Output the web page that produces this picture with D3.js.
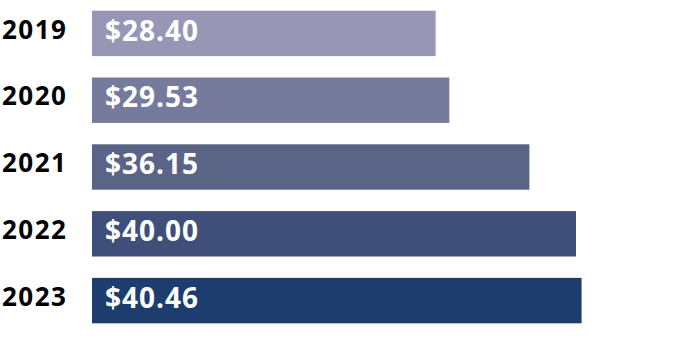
<!DOCTYPE html>
<html>
<head>
<meta charset="utf-8">
<script src="https://cdn.jsdelivr.net/npm/d3@7"></script>
<style>
  body { margin: 0; background: #fff; }
  .year { font-family: "Open Sans", sans-serif; font-weight: bold; fill: #000; letter-spacing: 1.5px; }
  .val { font-family: "Open Sans", sans-serif; font-weight: bold; fill: #fff; letter-spacing: 1px; }
</style>
</head>
<body>
<svg class="costchart"></svg>
<script>
var years = ["2019", "2020", "2021", "2022", "2023"];
var costs = [28.40, 29.53, 36.15, 40.00, 40.46];
var colors = ["#9797b5", "#767b9d", "#5a6487", "#3f4f79", "#1c3d6d"];

function drawCostChart() {
    var width = 698,
        height = 361;

    var x = d3.scaleLinear()
        .domain([0, 50])
        .range([92, 697]);

    var y = d3.scaleBand()
        .domain(years)
        .range([0, 334])
        .paddingInner(0.32)
        .paddingOuter(0.16);

    var chart = d3.select(".costchart")
        .attr("width", width)
        .attr("height", height);

    var data = years.map(function(d, i) { return {year: d, cost: costs[i], color: colors[i]}; });

    chart.selectAll(".bar")
            .data(data)
        .enter().append("rect")
            .attr("class", "bar")
            .attr("x", x(0))
            .attr("y", function(d) { return y(d.year); })
            .attr("width", function(d) { return x(d.cost) - x(0); })
            .attr("height", y.bandwidth())
            .attr("fill", function(d) { return d.color; });

    // year labels
    chart.selectAll(".year")
            .data(data)
        .enter().append("text")
            .attr("class", "year")
            .attr("x", 2)
            .attr("y", function(d) { return y(d.year) + y.bandwidth() / 2; })
            .attr("dy", "0.2em")
            .style("font-size", "26px")
            .text(function(d) { return d.year; });

    // value labels inside bars
    chart.selectAll(".val")
            .data(data)
        .enter().append("text")
            .attr("class", "val")
            .attr("x", x(0) + 13)
            .attr("y", function(d) { return y(d.year) + y.bandwidth() / 2; })
            .attr("dy", "0.26em")
            .style("font-size", "28px")
            .text(function(d) { return "$" + d.cost.toFixed(2); });
}

drawCostChart();
</script>
</body>
</html>
